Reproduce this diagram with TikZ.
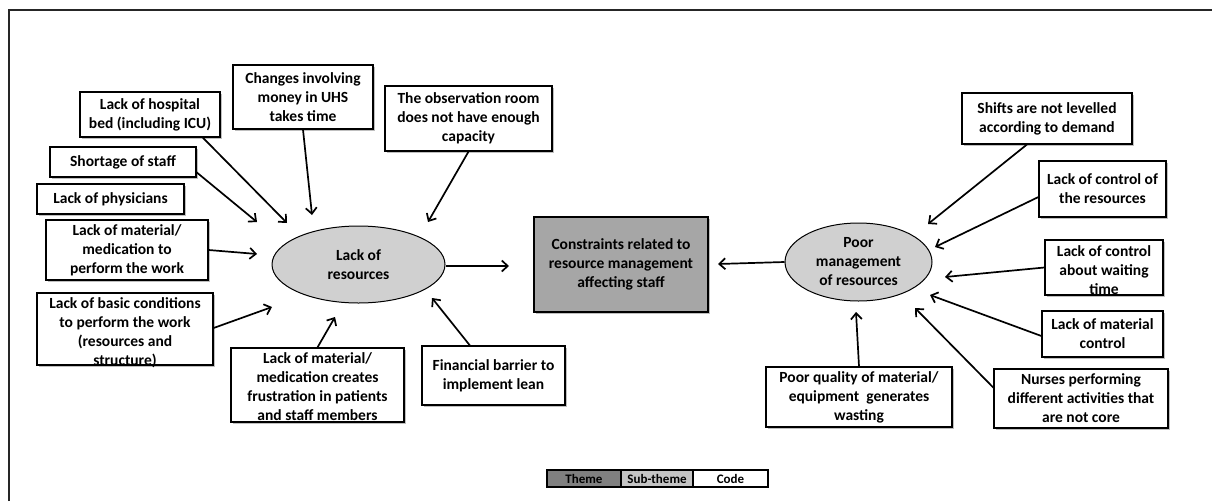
\documentclass[tikz,border=0pt]{standalone}
\usepackage{fontspec}
\setmainfont{Carlito}
\usetikzlibrary{arrows.meta,shadows,calc,shapes.geometric}
\definecolor{ellfill}{HTML}{D0D0D0}
\definecolor{themefill}{HTML}{A6A6A6}
\definecolor{legtheme}{HTML}{808080}
\definecolor{legsub}{HTML}{C4C4C4}
\begin{document}
\begin{tikzpicture}[x=1pt,y=-1pt,
  txt/.style={font=\fontsize{15.5}{19}\selectfont\bfseries, align=center, text=black},
  box/.style={draw=black, line width=1.2pt, fill=white, inner sep=0pt, txt,
    drop shadow={shadow xshift=1.5pt, shadow yshift=-1.5pt, opacity=0.5}},
  plain/.style={txt, inner sep=0pt, anchor=north},
  oval/.style={ellipse, draw=black, line width=1pt, fill=ellfill, inner sep=0pt, txt},
  arr/.style={line width=1.7pt, -{Straight Barb[length=6pt,width=11pt,line width=1.7pt]}},
  legcell/.style={draw=black, line width=1.3pt, inner sep=0pt, minimum height=17pt,
    font=\fontsize{13}{14}\selectfont\bfseries},
]
\useasboundingbox (0,0) rectangle (1212,501);
% outer frame
\draw[line width=2pt, black!85] (9,501) -- (9,10) -- (1212,10);

% central theme
\node[box, fill=themefill, minimum width=174pt, minimum height=95pt] (theme) at (621,264.5)
  {Constraints related to\\resource management\\affecting staff};

% sub-themes
\node[oval, minimum width=173pt, minimum height=77pt] (lr) at (358.5,264.5) {Lack of\\resources};
\node[oval, minimum width=147pt, minimum height=78pt] (poor) at (858.5,262) {Poor\\management\\of resources};

% codes, left group
\node[box, minimum width=140pt, minimum height=45pt] (hosp) at (150,114.5) {Lack of hospital\\bed (including ICU)};
\node[box, minimum width=140pt, minimum height=64pt] (chg) at (303,97) {Changes involving\\money in UHS\\takes time};
\node[box, minimum width=167pt, minimum height=65pt] (obs) at (468.5,118.5) {The observation room\\does not have enough\\capacity};
\node[box, minimum width=146pt, minimum height=30pt] (short) at (123,162) {Shortage of staff};
\node[box, minimum width=147pt, minimum height=30pt] (phys) at (110.5,199) {Lack of physicians};
\node[box, minimum width=162pt, minimum height=60pt] (matp) at (127,250) {Lack of material/\\medication to\\perform the work};
\node[box, minimum width=176pt, minimum height=72pt] (basic) at (125,329) {};
\node[plain] (basictxt) at (125,297) {Lack of basic conditions\\to perform the work\\(resources and\\structure)};
\node[box, minimum width=173pt, minimum height=74pt] (frus) at (317.5,385) {};
\node[plain] (frustxt) at (317.5,352.5) {Lack of material/\\medication creates\\frustration in patients\\and staff members};
\node[box, minimum width=143pt, minimum height=59pt] (fin) at (493.5,375.5) {Financial barrier to\\implement lean};

% codes, right group
\node[box, minimum width=170pt, minimum height=51pt] (shifts) at (1047,118.5) {Shifts are not levelled\\according to demand};
\node[box, minimum width=127pt, minimum height=56pt] (ctrl) at (1102.5,189) {Lack of control of\\the resources};
\node[box, minimum width=118pt, minimum height=55pt] (wait) at (1104,267.5) {};
\node[plain] (waittxt) at (1104,245.5) {Lack of control\\about waiting\\time};
\node[box, minimum width=121pt, minimum height=46pt] (matc) at (1102.5,334) {Lack of material\\control};
\node[box, minimum width=174pt, minimum height=59pt] (nurse) at (1081,398.5) {Nurses performing\\different activities that\\are not core};
\node[box, minimum width=186pt, minimum height=60pt] (pq) at (859,397) {Poor quality of material/\\equipment\ \ generates\\wasting};

% arrow tips near the sub-themes
\coordinate (tHosp) at (287,223);
\coordinate (tChg) at (312,215);
\coordinate (tObs) at (428,222);
\coordinate (tShort) at (257,222);
\coordinate (tMatp) at (257,254);
\coordinate (tBasic) at (272,307);
\coordinate (tFrus) at (335,317);
\coordinate (tFin) at (432,298);
\coordinate (tLr) at (509,266);
\coordinate (tPoor) at (718,264);
\coordinate (tShifts) at (928,224);
\coordinate (tCtrl) at (935,247);
\coordinate (tWait) at (945,277);
\coordinate (tMatc) at (930,295);
\coordinate (tNurse) at (915,308);
\coordinate (tPq) at (856,312);

% connectors
\draw[arr] ($(hosp.south west)!0.874!(hosp.south east)$) -- (tHosp);
\draw[arr] (chg.south) -- (tChg);
\draw[arr] (obs.south) -- (tObs);
\draw[arr] ($(short.south east)!0.17!(short.north east)$) -- (tShort);
\draw[arr] (matp.east) -- (tMatp);
\draw[arr] ($(basic.east)+(0,-1)$) -- (tBasic);
\draw[arr] (frus.north) -- (tFrus);
\draw[arr] ($(fin.north west)!0.336!(fin.north east)$) -- (tFin);
\draw[arr] ($(lr.east)+(0,1.5)$) -- (tLr);
\draw[arr] (poor.west) -- (tPoor);
\draw[arr] ($(shifts.south west)!0.382!(shifts.south east)$) -- (tShifts);
\draw[arr] ($(ctrl.south west)!0.36!(ctrl.north west)$) -- (tCtrl);
\draw[arr] (wait.west) -- (tWait);
\draw[arr] ($(matc.west)+(0,2)$) -- (tMatc);
\draw[arr] ($(nurse.south west)!0.68!(nurse.north west)$) -- (tNurse);
\draw[arr] (pq.north) -- (tPq);

% legend
\node[legcell, fill=legtheme, minimum width=74pt] (legT) at (584,478.5) {Theme};
\node[legcell, fill=legsub, minimum width=72pt] (legS) at (657,478.5) {Sub-theme};
\node[legcell, fill=white, minimum width=75pt] (legC) at (730.5,478.5) {Code};
\end{tikzpicture}
\end{document}
